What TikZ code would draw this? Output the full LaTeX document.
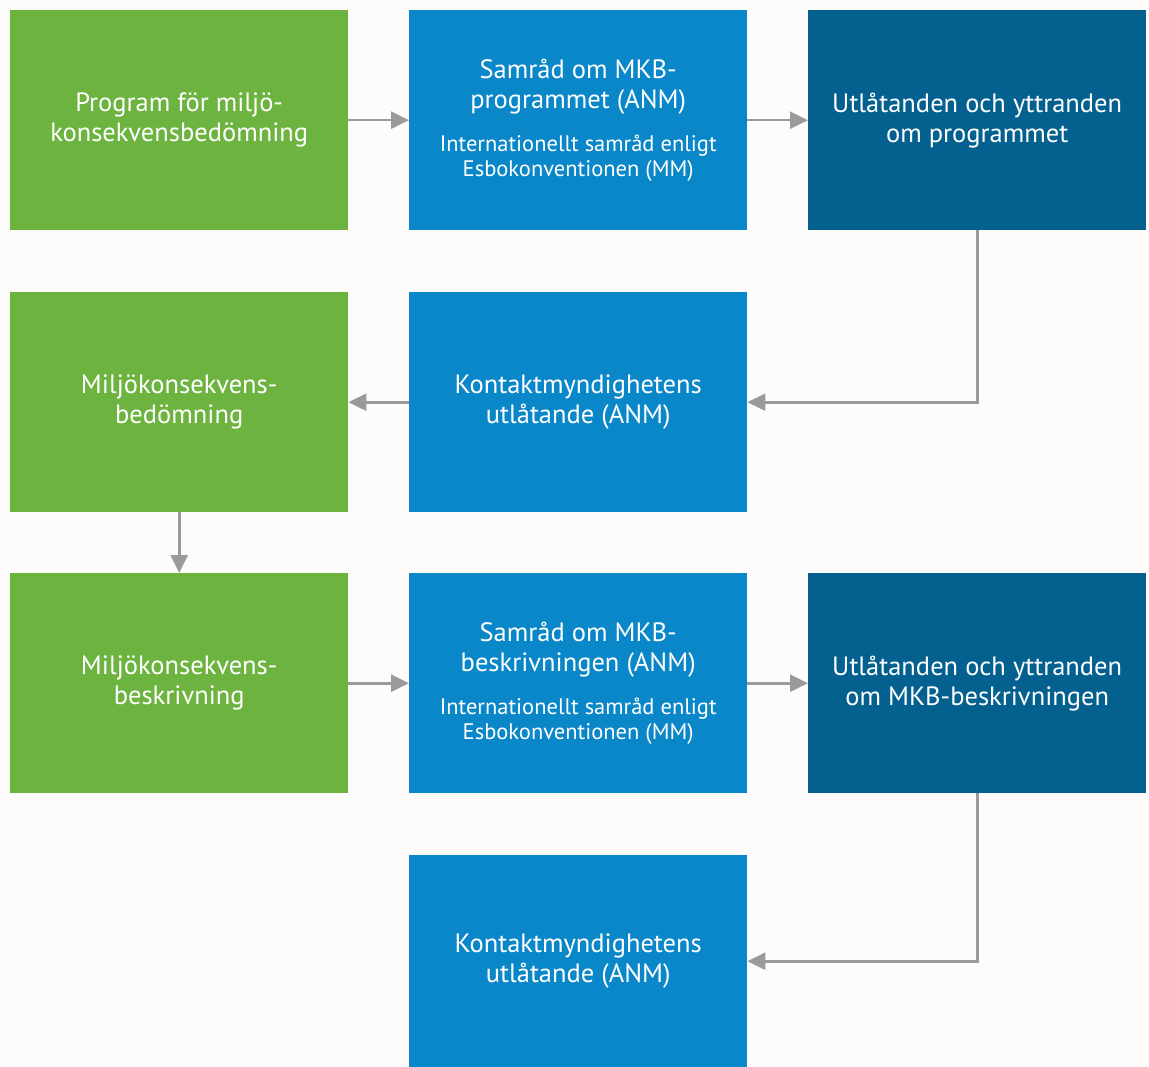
\documentclass[tikz,border=0pt]{standalone}
\usepackage{fontspec}
\setmainfont{PT Sans}
\usetikzlibrary{arrows.meta}
\definecolor{gr}{HTML}{6DB33F}
\definecolor{bl}{HTML}{0A87C8}
\definecolor{db}{HTML}{04608F}
\definecolor{ar}{HTML}{9A9A9A}
\definecolor{bg}{HTML}{FDFCFB}
\newcommand{\subfnt}{\fontsize{22.5}{25}\selectfont}
\begin{document}
\begin{tikzpicture}[x=1pt,y=-1pt,
  box/.style={minimum width=338pt, minimum height=220pt, inner sep=0pt, text=white,
    align=center, font=\fontsize{26.5}{30}\selectfont, anchor=north west},
  gbox/.style={box, fill=gr},
  bbox/.style={box, fill=bl},
  dbox/.style={box, fill=db},
  conn/.style={draw=ar, line width=2.6pt, -{Triangle[length=18pt,width=17pt]}}]
\useasboundingbox[fill=bg] (0,0) rectangle (1149,1067);
% row 1
\node[gbox] (g1) at (10,10) {Program för miljö-\\konsekvensbedömning};
\node[bbox] (b1) at (409,10) {Samråd om MKB-\\programmet (ANM)\\[13pt]\subfnt Internationellt samråd enligt\\[-5pt]\subfnt Esbokonventionen (MM)};
\node[dbox] (d1) at (808,10) {Utlåtanden och yttranden\\om programmet};
% row 2
\node[gbox] (g2) at (10,292) {Miljökonsekvens-\\bedömning};
\node[bbox] (k1) at (409,292) {Kontaktmyndighetens\\utlåtande (ANM)};
% row 3
\node[gbox] (g3) at (10,573) {Miljökonsekvens-\\beskrivning};
\node[bbox] (b2) at (409,573) {Samråd om MKB-\\beskrivningen (ANM)\\[13pt]\subfnt Internationellt samråd enligt\\[-5pt]\subfnt Esbokonventionen (MM)};
\node[dbox] (d2) at (808,573) {Utlåtanden och yttranden\\om MKB-beskrivningen};
% row 4
\node[bbox, minimum height=212pt] (k2) at (409,855) {Kontaktmyndighetens\\utlåtande (ANM)};
% connectors
\draw[conn] (g1.east) -- (b1.west);
\draw[conn] (b1.east) -- (d1.west);
\draw[conn] (d1.south) |- (k1.east);
\draw[conn] (k1.west) -- (g2.east);
\draw[conn] (g2.south) -- (g3.north);
\draw[conn] (g3.east) -- (b2.west);
\draw[conn] (b2.east) -- (d2.west);
\draw[conn] (d2.south) |- (k2.east);
\end{tikzpicture}
\end{document}
